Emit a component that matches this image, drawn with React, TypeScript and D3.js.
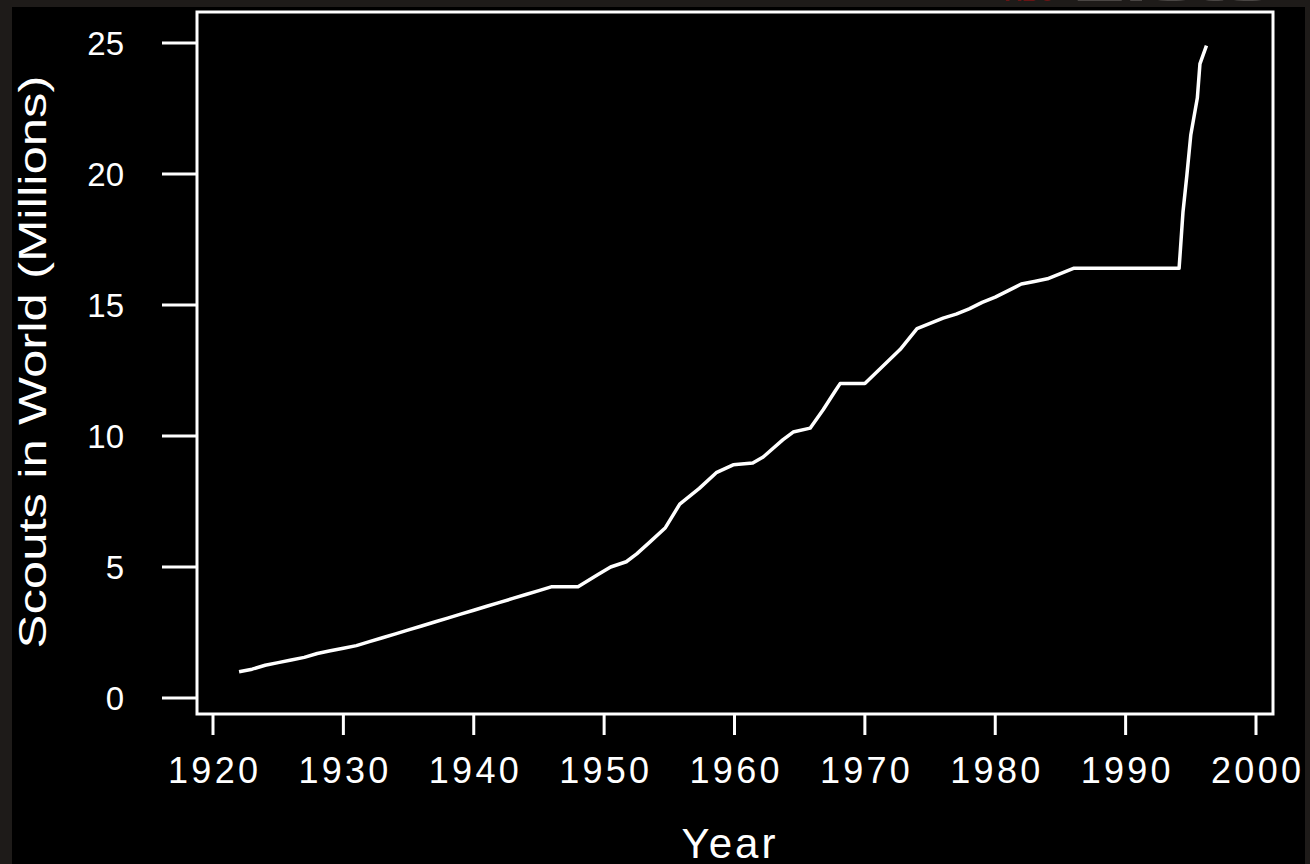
import React from "react";
import * as d3 from "d3";

const years: number[] = [
  1922, 1923, 1924, 1925, 1926, 1927, 1928, 1929, 1930, 1931, 1932, 1933, 1934,
  1935, 1936, 1937, 1938, 1939, 1940, 1941, 1942, 1943, 1944, 1945, 1946, 1948,
  1949.5, 1950.5, 1951.7, 1952.5, 1953.5, 1954.7, 1955.8, 1957.3, 1958.6, 1959.9,
  1961.4, 1962.2, 1963.7, 1964.5, 1965.8, 1966.8, 1967.7, 1968.1, 1970, 1972.7,
  1974, 1975, 1976, 1977, 1978, 1979, 1980, 1981, 1982, 1983, 1984, 1985, 1986,
  1994.1, 1994.2, 1994.4, 1994.7, 1995.0, 1995.5, 1995.7, 1996.2,
];
const scouts: number[] = [
  1.0, 1.1, 1.25, 1.35, 1.45, 1.55, 1.7, 1.8, 1.9, 2.0, 2.15, 2.3, 2.45,
  2.6, 2.75, 2.9, 3.05, 3.2, 3.35, 3.5, 3.65, 3.8, 3.95, 4.1, 4.25, 4.25,
  4.7, 5.0, 5.2, 5.5, 5.95, 6.5, 7.4, 8.0, 8.6, 8.9,
  8.97, 9.2, 9.85, 10.15, 10.3, 11.0, 11.7, 12.0, 12.0, 13.3,
  14.1, 14.3, 14.5, 14.65, 14.85, 15.1, 15.3, 15.55, 15.8, 15.9, 16.0, 16.2, 16.4,
  16.4, 17.1, 18.55, 19.96, 21.5, 22.9, 24.2, 24.9,
];
const xTicks: number[] = [1920, 1930, 1940, 1950, 1960, 1970, 1980, 1990, 2000];
const yTicks: number[] = [0, 5, 10, 15, 20, 25];

export default function App() {
  const x = d3.scaleLinear().domain([1920, 2000]).range([213, 1256]);
  const y = d3.scaleLinear().domain([0, 25]).range([698, 43]);
  const pts: [number, number][] = years.map((yr, i) => [yr, scouts[i]]);
  const line = d3
    .line<[number, number]>()
    .x((d) => x(d[0]))
    .y((d) => y(d[1]));
  const font = "'Liberation Sans', Arial, sans-serif";
  const boxL = 197,
    boxT = 12,
    boxR = 1273,
    boxB = 714;
  return (
    <svg
      width={1310}
      height={864}
      style={{ position: "absolute", left: 0, top: 0, display: "block" }}
    >
      <rect x={0} y={0} width={1310} height={864} fill="#1e1b19" />
      <rect x={12} y={7} width={1293} height={857} fill="#000" />
      <text
        x={1005}
        y={1}
        fontFamily={font}
        fontSize={30}
        fontWeight="bold"
        fill="#6a1414"
        textLength={50}
        lengthAdjust="spacingAndGlyphs"
      >
        ABC
      </text>
      <text
        x={1072}
        y={1}
        fontFamily={font}
        fontSize={30}
        fontWeight="bold"
        fill="#4a4644"
        textLength={200}
        lengthAdjust="spacingAndGlyphs"
      >
        Lists
      </text>
      <rect
        x={boxL}
        y={boxT}
        width={boxR - boxL}
        height={boxB - boxT}
        fill="none"
        stroke="#fff"
        strokeWidth={3}
      />
      {yTicks.map((t) => (
        <g key={"y" + t}>
          <line x1={162} x2={boxL} y1={y(t)} y2={y(t)} stroke="#fff" strokeWidth={3} />
          <text
            x={124}
            y={y(t) + 12}
            textAnchor="end"
            fontFamily={font}
            fontSize={33}
            fill="#fff"
          >
            {t}
          </text>
        </g>
      ))}
      {xTicks.map((t) => (
        <g key={"x" + t}>
          <line x1={x(t)} x2={x(t)} y1={boxB} y2={735} stroke="#fff" strokeWidth={3} />
          <text
            x={x(t)}
            y={783}
            textAnchor="middle"
            fontFamily={font}
            fontSize={36}
            fill="#fff"
            textLength={90}
            lengthAdjust="spacing"
          >
            {t}
          </text>
        </g>
      ))}
      <path d={line(pts) || ""} fill="none" stroke="#fff" strokeWidth={3.5} strokeLinejoin="round" />
      <text
        transform={`translate(46,362) rotate(-90)`}
        textAnchor="middle"
        fontFamily={font}
        fontSize={38}
        fill="#fff"
        textLength={573}
        lengthAdjust="spacingAndGlyphs"
      >
        Scouts in World (Millions)
      </text>
      <text
        x={730}
        y={858}
        textAnchor="middle"
        fontFamily={font}
        fontSize={42}
        fill="#fff"
        letterSpacing={3}
      >
        Year
      </text>
    </svg>
  );
}
